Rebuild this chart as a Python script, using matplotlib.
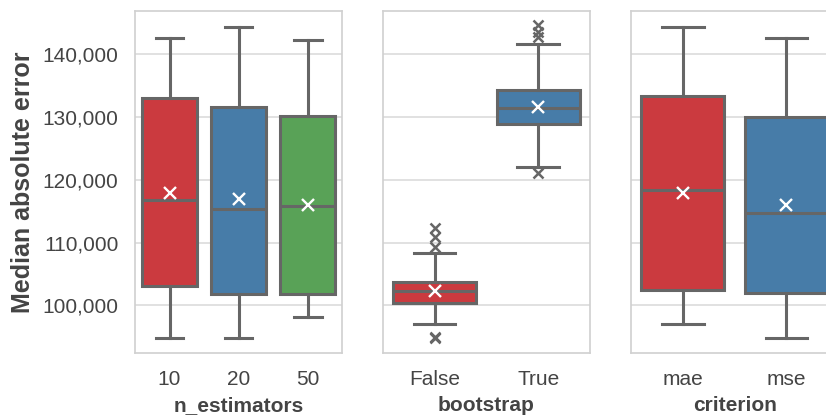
import matplotlib
matplotlib.use("Agg")
import matplotlib.pyplot as plt
from matplotlib.ticker import FuncFormatter

# ---- data ----
n_est_labels = ["10", "20", "50"]
n_est_whislo = [94840, 94840, 98180]
n_est_q1 = [103030, 101750, 101750]
n_est_med = [116730, 115350, 115870]
n_est_q3 = [133000, 131600, 130120]
n_est_whishi = [142650, 144400, 142280]
n_est_mean = [117850, 116940, 116030]
n_est_fliers = [[], [], []]

boot_labels = ["False", "True"]
boot_whislo = [97020, 122090]
boot_q1 = [100370, 128890]
boot_med = [102280, 131390]
boot_q3 = [103670, 134260]
boot_whishi = [108380, 141590]
boot_mean = [102300, 131650]
boot_fliers = [[112370, 110840, 109340, 94840, 94950],
               [144670, 143500, 142800, 121130]]

crit_labels = ["mae", "mse"]
crit_whislo = [96970, 94790]
crit_q1 = [102490, 102010]
crit_med = [118330, 114660]
crit_q3 = [133350, 130060]
crit_whishi = [144400, 142600]
crit_mean = [117950, 115980]
crit_fliers = [[], []]

x_titles = ["n_estimators", "bootstrap", "criterion"]
y_title = "Median absolute error"
y_ticks = [100000, 110000, 120000, 130000, 140000]

# ---- style ----
plt.rcParams["font.family"] = ["Liberation Sans", "DejaVu Sans"]
box_colors = ["#cb3a3f", "#477ca8", "#59a257"]
edge = "#666666"
text_col = "#444444"
grid_col = "#dcdcdc"
spine_col = "#d0d0d0"
lw = 2.2

fig = plt.figure(figsize=(8.26, 4.15), dpi=100)
W, H = 826.0, 415.0
bottom = 1 - 353.3 / H
height = (353.3 - 11.0) / H
width = 207.3 / W
lefts = [135.0 / W, 382.7 / W, 631.0 / W]

panels = [
    (n_est_labels, n_est_whislo, n_est_q1, n_est_med, n_est_q3, n_est_whishi, n_est_mean, n_est_fliers),
    (boot_labels, boot_whislo, boot_q1, boot_med, boot_q3, boot_whishi, boot_mean, boot_fliers),
    (crit_labels, crit_whislo, crit_q1, crit_med, crit_q3, crit_whishi, crit_mean, crit_fliers),
]

for i, (labels, wlo, q1, med, q3, whi, mean, fl) in enumerate(panels):
    ax = fig.add_axes([lefts[i], bottom, width, height])
    stats = []
    for j in range(len(labels)):
        stats.append(dict(label=labels[j], whislo=wlo[j], q1=q1[j], med=med[j],
                          q3=q3[j], whishi=whi[j], mean=mean[j], fliers=fl[j]))
    positions = list(range(len(labels)))
    bp = ax.bxp(stats, positions=positions, widths=0.8, patch_artist=True,
                showmeans=True, showfliers=True,
                boxprops=dict(edgecolor=edge, linewidth=lw),
                whiskerprops=dict(color=edge, linewidth=lw),
                capprops=dict(color=edge, linewidth=lw),
                medianprops=dict(color=edge, linewidth=lw),
                meanprops=dict(marker="x", markeredgecolor="white",
                               markerfacecolor="white", markersize=8,
                               markeredgewidth=1.7),
                flierprops=dict(marker="x", markeredgecolor=edge,
                                markerfacecolor=edge, markersize=7.5,
                                markeredgewidth=1.8, linestyle="none"),
                zorder=3)
    for k, patch in enumerate(bp["boxes"]):
        patch.set_facecolor(box_colors[k])
    for cap in bp["caps"]:
        xd = cap.get_xdata()
        c = (xd[0] + xd[1]) / 2
        cap.set_xdata([c - 0.2, c + 0.2])
    ax.set_xlim(-0.5, len(labels) - 0.5)
    ax.set_ylim(92350, 146900)
    ax.set_yticks(y_ticks)
    ax.yaxis.grid(True, color=grid_col, linewidth=1.2, zorder=0)
    ax.xaxis.grid(False)
    ax.set_axisbelow(True)
    for s in ax.spines.values():
        s.set_color(spine_col)
        s.set_linewidth(1.2)
    ax.tick_params(axis="y", length=0, labelsize=15, colors=text_col, pad=12)
    ax.tick_params(axis="x", length=0, labelsize=15, colors=text_col, pad=12)
    ax.set_xticks(positions)
    ax.set_xticklabels(labels)
    ax.set_xlabel(x_titles[i], fontsize=15, fontweight="bold", color=text_col, labelpad=5)
    if i == 0:
        ax.yaxis.set_major_formatter(FuncFormatter(lambda v, p: f"{int(v):,}"))
        ax.set_ylabel(y_title, fontsize=18, fontweight="bold", color=text_col, labelpad=5)
    else:
        ax.set_yticklabels([])

fig.savefig("out.png", dpi=100)
